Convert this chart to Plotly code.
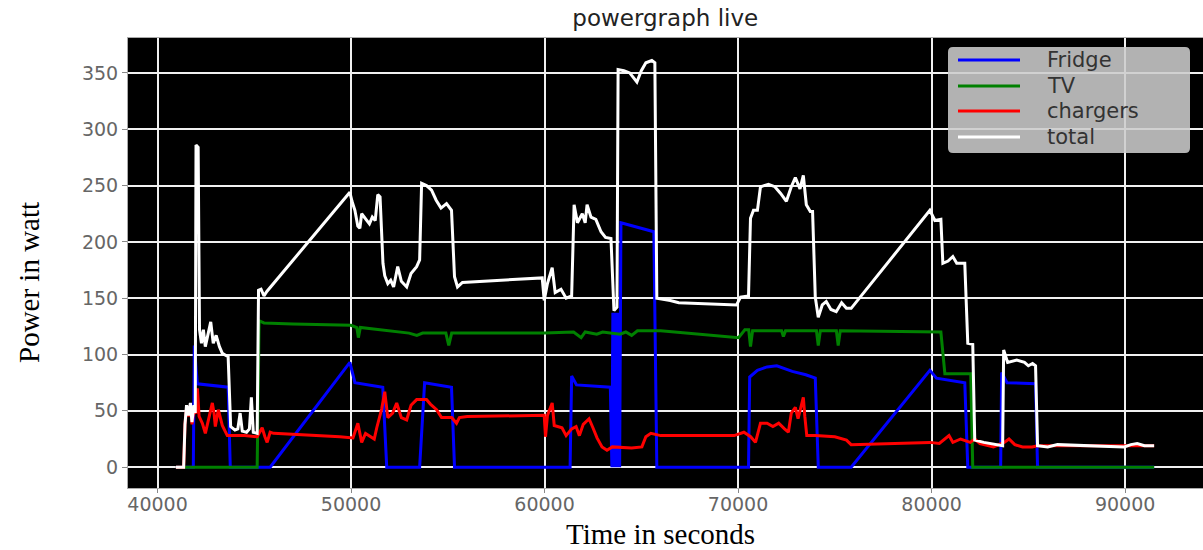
import plotly.graph_objects as go

# Fridge power draw (seconds of day, watts)
fridge_t = [40950, 41850, 41900, 42060, 43650, 43760, 45820, 49940, 50200, 51640,
            51845, 53545, 53802, 55192, 55347, 61320, 61400, 61650, 63400, 63480,
            63530, 63580, 63630, 63680, 63730, 63780, 63830, 63880, 63947, 65647,
            65802, 70540, 70600, 71000, 71500, 72000, 72800, 73500, 73990, 74144,
            75844, 79912, 80250, 81715, 81870, 83569, 83620, 83900, 85371, 85475,
            91500]
fridge_w = [0, 0, 108, 74, 71, 0, 0, 93, 75, 71,
            0, 0, 75, 71, 0, 0, 81, 73, 71, 0,
            137, 0, 137, 0, 137, 0, 137, 0, 217, 209,
            0, 0, 80, 86, 89, 90, 85, 82, 79, 0,
            0, 86, 79, 75, 0, 0, 84, 75, 74, 0,
            0]

# TV power draw
tv_t = [40950, 45150, 45250, 45500, 47000, 50000, 50300, 50380, 50480, 51500,
        52000, 53000, 53400, 53700, 54900, 55050, 55200, 60000, 61500, 61890,
        62100, 62700, 63000, 63900, 64200, 64500, 64800, 66000, 70025, 70350,
        70550, 70642, 70750, 72250, 72342, 72450, 74050, 74144, 74250, 75080,
        75174, 75280, 80480, 80686, 82024, 82127, 91500]
tv_w = [0, 0, 130, 128, 127, 126, 124, 115, 124, 122,
        121, 119, 117, 119, 119, 108, 119, 119, 120, 115,
        120, 118, 120, 118, 120, 117, 121, 121, 115, 122,
        122, 107, 121, 121, 116, 121, 121, 108, 121, 121,
        108, 121, 120, 83, 83, 0, 0]

# Phone/laptop chargers power draw
chargers_t = [40950, 41350, 41420, 41500, 41600, 41700, 41780, 41880, 42000, 42060,
              42150, 42317, 42472, 42627, 42833, 42920, 42987, 43142, 43348, 43605,
              44500, 45150, 45408, 45550, 45665, 45820, 46000, 49425, 50100, 50352,
              50550, 50750, 51000, 51200, 51330, 51588, 51742, 51900, 52150, 52360,
              52600, 52875, 53100, 53390, 53900, 54100, 54420, 54677, 55200, 55450,
              55600, 56000, 59982, 60050, 60150, 60394, 60500, 60900, 61115, 61400,
              61630, 61800, 62000, 62300, 62500, 62712, 62970, 63227, 63500, 64500,
              65030, 65235, 65492, 66000, 69800, 70300, 70650, 70900, 71158, 71500,
              71800, 72100, 72400, 72600, 72750, 72960, 73100, 73372, 73450, 73550,
              74000, 75000, 75600, 75844, 79912, 80400, 80900, 81100, 81500, 81715,
              82000, 82230, 82500, 83200, 83500, 83750, 84000, 84300, 84700, 85200,
              85475, 86500, 91500]
chargers_w = [0, 0, 38, 52, 45, 55, 38, 50, 48, 70,
              45, 39, 30, 42, 57, 48, 36, 51, 37, 28,
              28, 27, 35, 27, 22, 31, 30, 27, 26, 39,
              22, 30, 27, 25, 35, 52, 67, 44, 48, 57,
              44, 42, 55, 60, 60, 56, 51, 44, 44, 39,
              44, 45, 46, 27, 46, 57, 37, 35, 28, 34,
              36, 28, 38, 43, 35, 26, 18, 15, 18, 17,
              18, 27, 30, 28, 28, 31, 27, 22, 39, 39,
              36, 39, 34, 31, 48, 53, 43, 62, 45, 28,
              28, 27, 24, 20, 22, 21, 28, 22, 25, 24,
              22, 25, 21, 18, 20, 22, 25, 20, 18, 18,
              19, 19, 19]

# Total household power draw
total_t = [40950, 41350, 41420, 41500, 41600, 41700, 41780, 41880, 41950, 41990,
           42100, 42170, 42270, 42370, 42470, 42600, 42750, 42880, 43030, 43200,
           43350, 43650, 43780, 44000, 44150, 44270, 44380, 44600, 44750, 44850,
           44950, 45150, 45220, 45350, 45500, 45650, 49940, 50050, 50200, 50350,
           50455, 50550, 50750, 50950, 51100, 51250, 51382, 51500, 51650, 51742,
           51900, 52050, 52200, 52412, 52600, 52875, 53100, 53390, 53545, 53647,
           53900, 54162, 54400, 54650, 54935, 55192, 55347, 55502, 55759, 59879,
           59982, 60150, 60394, 60550, 60850, 61115, 61400, 61527, 61700, 61950,
           62100, 62197, 62400, 62650, 62918, 63150, 63432, 63587, 63742, 63800,
           64100, 64400, 64772, 65000, 65235, 65544, 65700, 65802, 66500, 66934,
           69922, 70128, 70540, 70642, 70797, 71000, 71158, 71570, 71900, 72200,
           72497, 72750, 72960, 73200, 73372, 73527, 73733, 73850, 73990, 74144,
           74350, 74557, 74800, 75072, 75350, 75600, 75844, 79912, 80170, 80480,
           80582, 80850, 81097, 81300, 81715, 81870, 82127, 82230, 82700, 83260,
           83672, 83724, 83930, 84400, 84800, 85000, 85217, 85372, 85475, 86000,
           86505, 89955, 90300, 90625, 91000, 91500]
total_w = [0, 0, 38, 55, 46, 57, 40, 55, 48, 286,
           284, 122, 110, 122, 107, 116, 129, 110, 117, 107,
           101, 98, 36, 33, 34, 48, 32, 31, 34, 62,
           31, 30, 157, 158, 152, 156, 244, 236, 228, 214,
           212, 225, 220, 216, 222, 219, 242, 240, 181, 170,
           163, 166, 160, 178, 165, 160, 172, 178, 184, 252,
           250, 246, 237, 230, 234, 228, 169, 160, 164, 168,
           148, 163, 177, 155, 158, 150, 152, 233, 217, 225,
           217, 233, 222, 220, 209, 204, 203, 139, 142, 353,
           352, 350, 342, 352, 359, 361, 359, 150, 148, 146,
           144, 151, 152, 221, 228, 228, 249, 251, 249, 243,
           236, 249, 257, 247, 259, 233, 227, 227, 151, 133,
           144, 147, 140, 138, 146, 141, 141, 228, 219, 220,
           181, 183, 187, 181, 181, 110, 109, 24, 22, 20,
           19, 104, 93, 95, 93, 90, 92, 90, 19, 18,
           20, 18, 20, 21, 19, 19]

series_names = ["Fridge", "TV", "chargers", "total"]
series_colors = ["#0000ff", "#008000", "#ff0000", "#ffffff"]
x_ticks = [40000, 50000, 60000, 70000, 80000, 90000]
y_ticks = [0, 50, 100, 150, 200, 250, 300, 350]

fig = go.Figure()
series_data = [(fridge_t, fridge_w), (tv_t, tv_w),
               (chargers_t, chargers_w), (total_t, total_w)]
for name, color, (t, w) in zip(series_names, series_colors, series_data):
    fig.add_trace(go.Scatter(x=t, y=w, name=name, mode="lines", showlegend=False,
                             line=dict(color=color, width=3)))

# Plot-area geometry in pixels, used to place the legend box and labels
PL, PR, PT, PB = 128, 1203, 38, 488


def px(xp):
    return (xp - PL) / (PR - PL)


def py(yp):
    return (PB - yp) / (PB - PT)


shapes = []
annotations = []

# Legend: rounded translucent box with line samples and labels
bx0, bx1, by0, by1, r = 948, 1190, 47, 153, 5
rx, ry = r / (PR - PL), r / (PB - PT)
path = (f"M {px(bx0) + rx},{py(by0)} L {px(bx1) - rx},{py(by0)} "
        f"Q {px(bx1)},{py(by0)} {px(bx1)},{py(by0) - ry} "
        f"L {px(bx1)},{py(by1) + ry} Q {px(bx1)},{py(by1)} {px(bx1) - rx},{py(by1)} "
        f"L {px(bx0) + rx},{py(by1)} Q {px(bx0)},{py(by1)} {px(bx0)},{py(by1) + ry} "
        f"L {px(bx0)},{py(by0) - ry} Q {px(bx0)},{py(by0)} {px(bx0) + rx},{py(by0)} Z")
shapes.append(dict(type="path", xref="paper", yref="paper", path=path,
                   fillcolor="rgba(205,205,205,0.87)", line=dict(width=0)))
row_y = [60, 86, 111, 137]
for name, color, ry_px in zip(series_names, series_colors, row_y):
    shapes.append(dict(type="line", xref="paper", yref="paper",
                       x0=px(958), x1=px(1020), y0=py(ry_px), y1=py(ry_px),
                       line=dict(color=color, width=3)))
    annotations.append(dict(x=px(1045), y=py(ry_px), xref="paper", yref="paper",
                            text=name, showarrow=False, xanchor="left",
                            yanchor="middle",
                            font=dict(family="DejaVu Sans", size=21, color="#333333")))

label_font = dict(family="Liberation Serif", size=29, color="#000000")
annotations.append(dict(x=px(660), y=py(534), xref="paper", yref="paper",
                        text="Time in seconds", showarrow=False,
                        xanchor="center", yanchor="middle", font=label_font))
annotations.append(dict(x=px(29), y=py(283), xref="paper", yref="paper",
                        text="Power in watt", showarrow=False, textangle=-90,
                        xanchor="center", yanchor="middle", font=label_font))

tick_font = dict(family="DejaVu Sans", size=19, color="#666666")

fig.update_layout(
    width=1203, height=550,
    margin=dict(l=PL, r=1203 - PR, t=PT, b=550 - PB),
    paper_bgcolor="#ffffff",
    plot_bgcolor="#000000",
    showlegend=False,
    title=dict(text="powergraph live", x=0.553, xanchor="center",
               y=0.968, yanchor="middle",
               font=dict(family="DejaVu Sans", size=23, color="#222222")),
    shapes=shapes,
    annotations=annotations,
    xaxis=dict(range=[38475, 94025], tickvals=x_ticks,
               ticktext=[str(v) for v in x_ticks],
               showgrid=True, gridcolor="#f0f0f0", gridwidth=1.5,
               zeroline=False, ticks="outside", ticklen=4, tickcolor="#888888",
               tickfont=tick_font, ticklabelstandoff=-5,
               showline=True, linecolor="#aaaaaa", linewidth=1, mirror=True),
    yaxis=dict(range=[-18.5, 381], tickvals=y_ticks,
               showgrid=True, gridcolor="#f0f0f0", gridwidth=1.5,
               zeroline=False, ticks="outside", ticklen=5, tickcolor="#888888",
               tickfont=tick_font,
               showline=True, linecolor="#aaaaaa", linewidth=1, mirror=True),
)

fig.write_html("out.html")
